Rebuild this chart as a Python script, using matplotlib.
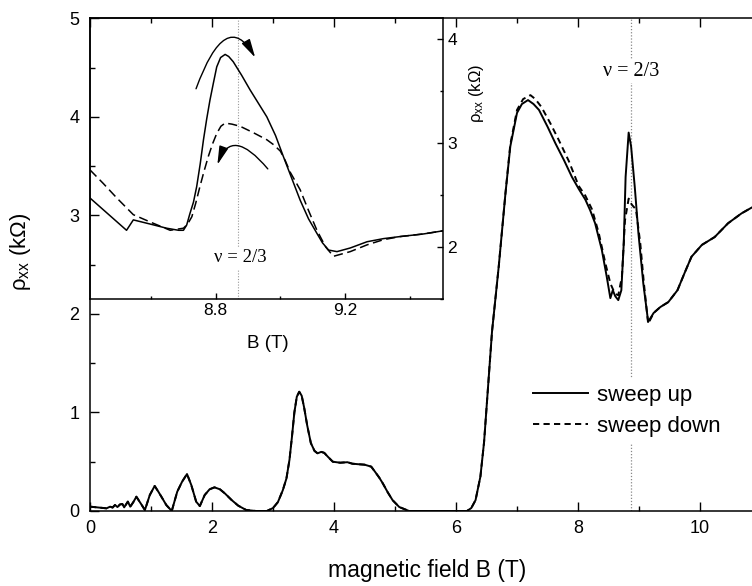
import matplotlib
matplotlib.use("Agg")
from matplotlib import pyplot as plt
from matplotlib.ticker import MultipleLocator
from matplotlib.lines import Line2D

plt.rcParams['font.family'] = ['Liberation Sans', 'DejaVu Sans']
plt.rcParams['mathtext.fontset'] = 'custom'
plt.rcParams['mathtext.rm'] = 'Liberation Sans'
plt.rcParams['mathtext.it'] = 'Liberation Sans'

# main panel, sweep up (B in T, rho_xx in kOhm)
b_up = [0, 0.16, 0.27, 0.33, 0.37, 0.41, 0.45, 0.49, 0.53, 0.56, 0.62, 0.66, 0.71, 0.76,
        0.83, 0.90, 0.98, 1.06, 1.12, 1.17, 1.25, 1.34, 1.43, 1.51, 1.59, 1.66, 1.74, 1.80,
        1.88, 1.96, 2.04, 2.13, 2.21, 2.32, 2.43, 2.56, 2.72, 2.90, 3.00, 3.08, 3.16, 3.22,
        3.27, 3.31, 3.35, 3.39, 3.43, 3.47, 3.51, 3.56, 3.62, 3.68, 3.73, 3.79, 3.84, 3.90,
        3.98, 4.10, 4.22, 4.30, 4.39, 4.50, 4.61, 4.67, 4.74, 4.80, 4.88, 4.96, 5.07, 5.23,
        5.60, 6.00, 6.18, 6.25, 6.32, 6.40, 6.46, 6.51, 6.59, 6.70, 6.81, 6.89, 7.00, 7.08,
        7.18, 7.27, 7.36, 7.50, 7.63, 7.77, 7.90, 8.01, 8.12, 8.20, 8.28, 8.39, 8.47, 8.53,
        8.57, 8.61, 8.66, 8.71, 8.75, 8.78, 8.83, 8.87, 8.93, 8.99, 9.07, 9.15, 9.24, 9.35,
        9.48, 9.63, 9.75, 9.86, 10.03, 10.24, 10.46, 10.68, 10.85]
rho_up = [0.044, 0.034, 0.027, 0.044, 0.035, 0.061, 0.040, 0.066, 0.071, 0.037, 0.095, 0.044,
          0.090, 0.145, 0.078, 0.010, 0.162, 0.254, 0.196, 0.145, 0.061, 0.0, 0.196, 0.298,
          0.375, 0.264, 0.095, 0.050, 0.162, 0.220, 0.240, 0.220, 0.179, 0.112, 0.054, 0.010,
          0.0, 0.0, 0.030, 0.090, 0.210, 0.330, 0.520, 0.750, 1.00, 1.16, 1.21, 1.17, 1.05,
          0.87, 0.69, 0.61, 0.585, 0.600, 0.590, 0.550, 0.500, 0.490, 0.495, 0.480, 0.475,
          0.470, 0.450, 0.400, 0.340, 0.280, 0.190, 0.110, 0.040, 0.0, 0.0, 0.0, 0.0, 0.030,
          0.110, 0.350, 0.70, 1.13, 1.82, 2.48, 3.22, 3.70, 4.04, 4.13, 4.17, 4.13, 4.07,
          3.90, 3.73, 3.56, 3.39, 3.27, 3.16, 3.05, 2.92, 2.65, 2.38, 2.16, 2.24, 2.18, 2.14,
          2.24, 2.72, 3.39, 3.84, 3.70, 3.29, 2.82, 2.31, 1.92, 2.01, 2.07, 2.12, 2.24, 2.42,
          2.58, 2.70, 2.78, 2.92, 3.02, 3.08]

# main panel, sweep down
b_dn = [0, 0.16, 0.27, 0.33, 0.37, 0.41, 0.45, 0.49, 0.53, 0.56, 0.62, 0.66, 0.71, 0.76,
        0.83, 0.90, 0.98, 1.06, 1.12, 1.17, 1.25, 1.34, 1.43, 1.51, 1.59, 1.66, 1.74, 1.80,
        1.88, 1.96, 2.04, 2.13, 2.21, 2.32, 2.43, 2.56, 2.72, 2.90, 3.00, 3.08, 3.16, 3.22,
        3.27, 3.31, 3.35, 3.39, 3.43, 3.47, 3.51, 3.56, 3.62, 3.68, 3.73, 3.79, 3.84, 3.90,
        3.98, 4.10, 4.22, 4.30, 4.39, 4.50, 4.61, 4.67, 4.74, 4.80, 4.88, 4.96, 5.07, 5.23,
        5.60, 6.00, 6.18, 6.25, 6.32, 6.40, 6.46, 6.51, 6.59, 6.70, 6.81, 6.89, 7.00, 7.10,
        7.22, 7.30, 7.40, 7.55, 7.68, 7.85, 8.01, 8.12, 8.23, 8.34, 8.45, 8.53, 8.58, 8.62,
        8.66, 8.72, 8.77, 8.83, 8.88, 8.95, 9.02, 9.08, 9.15, 9.24, 9.35, 9.48, 9.63, 9.75,
        9.86, 10.03, 10.24, 10.46, 10.68, 10.85]
rho_dn = [0.044, 0.034, 0.027, 0.044, 0.035, 0.061, 0.040, 0.066, 0.071, 0.037, 0.095, 0.044,
          0.090, 0.145, 0.078, 0.010, 0.162, 0.254, 0.196, 0.145, 0.061, 0.0, 0.196, 0.298,
          0.375, 0.264, 0.095, 0.050, 0.162, 0.220, 0.240, 0.220, 0.179, 0.112, 0.054, 0.010,
          0.0, 0.0, 0.030, 0.090, 0.210, 0.330, 0.520, 0.750, 1.00, 1.16, 1.21, 1.17, 1.05,
          0.87, 0.69, 0.61, 0.585, 0.600, 0.590, 0.550, 0.500, 0.490, 0.495, 0.480, 0.475,
          0.470, 0.450, 0.400, 0.340, 0.280, 0.190, 0.110, 0.040, 0.0, 0.0, 0.0, 0.0, 0.030,
          0.110, 0.350, 0.70, 1.13, 1.82, 2.48, 3.22, 3.72, 4.07, 4.18, 4.22, 4.18, 4.10,
          3.93, 3.77, 3.55, 3.30, 3.20, 3.06, 2.82, 2.51, 2.31, 2.24, 2.20, 2.19, 2.38, 2.95,
          3.17, 3.11, 3.06, 2.72, 2.31, 1.90, 2.01, 2.07, 2.12, 2.24, 2.42, 2.58, 2.70, 2.78,
          2.92, 3.02, 3.08]

# inset, zoom around nu = 2/3
b_in_up = [8.411, 8.524, 8.545, 8.597, 8.648, 8.685, 8.700, 8.710, 8.720, 8.731, 8.741, 8.752,
           8.762, 8.772, 8.782, 8.793, 8.803, 8.815, 8.829, 8.840, 8.854, 8.880, 8.906, 8.930,
           8.958, 8.985, 9.009, 9.035, 9.061, 9.087, 9.113, 9.130, 9.149, 9.175, 9.216, 9.268,
           9.319, 9.371, 9.443, 9.503]
rho_in_up = [2.47, 2.16, 2.26, 2.22, 2.18, 2.16, 2.16, 2.21, 2.32, 2.43, 2.58, 2.80, 3.03,
             3.23, 3.41, 3.58, 3.73, 3.82, 3.85, 3.83, 3.78, 3.65, 3.51, 3.39, 3.25, 3.07,
             2.87, 2.66, 2.45, 2.27, 2.13, 2.04, 1.97, 1.955, 1.99, 2.05, 2.08, 2.10, 2.125,
             2.155]
b_in_dn = [8.411, 8.452, 8.494, 8.545, 8.597, 8.659, 8.700, 8.713, 8.726, 8.738, 8.751, 8.764,
           8.777, 8.790, 8.803, 8.816, 8.829, 8.850, 8.875, 8.915, 8.958, 8.980, 9.000, 9.015,
           9.030, 9.061, 9.087, 9.113, 9.140, 9.164, 9.216, 9.268, 9.319, 9.371, 9.443, 9.503]
rho_in_dn = [2.74, 2.61, 2.47, 2.31, 2.24, 2.16, 2.18, 2.22, 2.29, 2.42, 2.58, 2.73, 2.87,
             2.99, 3.09, 3.16, 3.19, 3.18, 3.16, 3.10, 3.03, 2.98, 2.92, 2.83, 2.72, 2.55,
             2.35, 2.16, 2.00, 1.91, 1.955, 2.02, 2.07, 2.10, 2.125, 2.155]

nu_b = 8.87
legend_labels = ["sweep up", "sweep down"]

fig = plt.figure(figsize=(7.52, 5.86), dpi=100)
ax = fig.add_axes([0.1197, 0.128, 0.8923, 0.8408])
ax.plot(b_up, rho_up, color="black", lw=1.4, zorder=3)
ax.plot(b_dn, rho_dn, color="black", lw=1.4, linestyle=(0, (3.2, 2.2)), zorder=2)
ax.axvline(nu_b, color="#888888", lw=0.9, linestyle=(0, (1, 1.5)), zorder=1)
ax.text(nu_b, 4.46, "ν = 2/3", family="Liberation Serif", fontsize=14.5, ha="center",
        va="center", zorder=4, bbox=dict(facecolor="white", edgecolor="none", pad=1.5))
ax.set_xlim(0, 11)
ax.set_ylim(0, 5)
ax.xaxis.set_major_locator(MultipleLocator(2))
ax.xaxis.set_minor_locator(MultipleLocator(1))
ax.yaxis.set_major_locator(MultipleLocator(1))
ax.yaxis.set_minor_locator(MultipleLocator(0.5))
ax.tick_params(which="both", direction="in", top=True, right=True, width=1, labelsize=13)
ax.tick_params(which="major", length=6.5)
ax.tick_params(which="minor", length=3.5)
ax.tick_params(axis="x", pad=6.5)
ax.tick_params(axis="y", pad=7.5)
for s in ax.spines.values():
    s.set_linewidth(1.1)
ax.set_xlabel("magnetic field B (T)", fontsize=16.5, va="top")
ax.xaxis.set_label_coords(0.502, -0.097)
ax.set_ylabel(r"ρ$_\mathrm{xx}$ (kΩ)", fontsize=16)
ax.yaxis.set_label_coords(-0.085, 0.526)

handles = [Line2D([], [], color="black", lw=1.4),
           Line2D([], [], color="black", lw=1.4, linestyle=(0, (3.2, 2.2)))]
leg = ax.legend(handles, legend_labels, loc="center left", bbox_to_anchor=(0.65, 0.203),
                fontsize=16, frameon=True, fancybox=False, borderaxespad=0, borderpad=0.3,
                handlelength=2.5, handletextpad=0.4, labelspacing=0.45)
leg.get_frame().set_facecolor("white")
leg.get_frame().set_edgecolor("none")
leg.get_frame().set_alpha(1)
leg.set_zorder(5)

# inset
ins = fig.add_axes([0.1197, 0.4898, 0.4694, 0.4795])
ins.patch.set_facecolor("none")
ins.plot(b_in_up, rho_in_up, color="black", lw=1.1)
ins.plot(b_in_dn, rho_in_dn, color="black", lw=1.1, linestyle=(0, (6, 3)))
ins.axvline(nu_b, color="#999999", lw=0.8, linestyle=(0, (1, 1.5)), zorder=1)
ins.text(8.875, 1.894, "ν = 2/3", family="Liberation Serif", fontsize=13.5, ha="center",
         va="center", zorder=4, bbox=dict(facecolor="white", edgecolor="none", pad=1.5))
arrow_kw = dict(arrowstyle="-|>,head_length=0.8,head_width=0.2", color="black", lw=1,
                shrinkA=0, shrinkB=0, mutation_scale=14)
ins.annotate("", xy=(8.922, 3.82), xytext=(8.739, 3.52),
             arrowprops=dict(connectionstyle="angle3,angleA=70,angleB=120", **arrow_kw))
ins.annotate("", xy=(8.805, 2.79), xytext=(8.961, 2.75),
             arrowprops=dict(connectionstyle="angle3,angleA=130,angleB=70", **arrow_kw))
ins.set_xlim(8.411, 9.503)
ins.set_ylim(1.5, 4.2)
ins.xaxis.set_major_locator(MultipleLocator(0.4))
ins.xaxis.set_minor_locator(MultipleLocator(0.2))
ins.yaxis.set_major_locator(MultipleLocator(1))
ins.yaxis.set_minor_locator(MultipleLocator(0.5))
ins.yaxis.tick_right()
ins.yaxis.set_label_position("right")
ins.tick_params(which="both", direction="in", top=False, left=False, right=True,
                width=1, labelsize=12.5, pad=3)
ins.tick_params(which="major", length=4.5)
ins.tick_params(which="minor", length=2.5)
for s in ins.spines.values():
    s.set_linewidth(1.1)
ins.set_xlabel("B (T)", fontsize=13.5, va="top")
ins.xaxis.set_label_coords(0.504, -0.128)
ins.set_ylabel(r"ρ$_\mathrm{xx}$ (kΩ)", fontsize=12)
ins.yaxis.set_label_coords(1.068, 0.73)

fig.savefig("out.png", dpi=100)
